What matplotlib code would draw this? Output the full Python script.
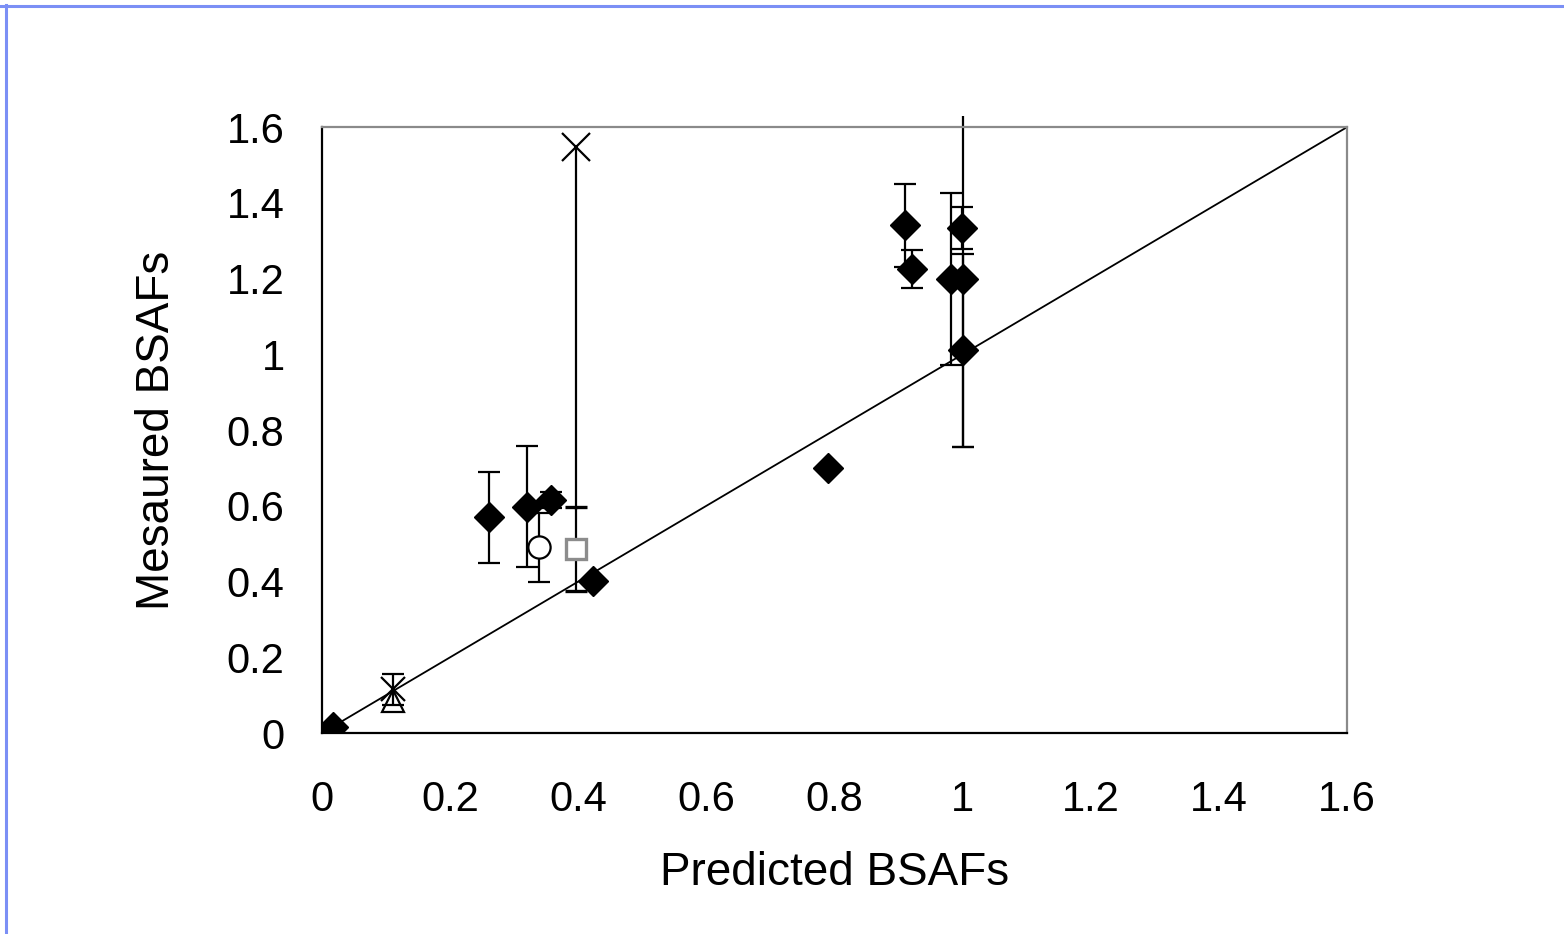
import matplotlib
matplotlib.use("Agg")
import matplotlib.pyplot as plt
from matplotlib.lines import Line2D

plt.rcParams['font.family'] = ['Liberation Sans', 'DejaVu Sans']

# ─── data ────────────────────────────────────────
# filled diamonds: predicted, measured, symmetric error
dia_x = [0.017, 0.26, 0.32, 0.357, 0.423, 0.79, 0.91, 0.92, 0.982, 0.999, 1.0]
dia_y = [0.015, 0.57, 0.597, 0.615, 0.401, 0.70, 1.34, 1.225, 1.199, 1.333, 1.01]
dia_err = [0.0, 0.12, 0.16, 0.021, 0.0, 0.0, 0.11, 0.05, 0.227, 0.055, 0.255]

# diamond with the very wide error bar (upper part runs off the plot)
big_x = [1.0]
big_y = [1.20]
big_lo = [0.445]
big_hi = [0.43]

# open circle
circ_x = [0.339]
circ_y = [0.49]
circ_err = [0.092]

# grey open square
sq_x = [0.397]
sq_y = [0.486]
sq_err = [0.11]

# crosses (the top one only has a lower error bar)
x_x = [0.11]
x_y = [0.115]
x_err = [0.04]
xtop_x = [0.397]
xtop_y = [1.547]
xtop_lo = [0.957]

# open triangle
tri_x = [0.11]
tri_y = [0.085]

ticks = [0, 0.2, 0.4, 0.6, 0.8, 1, 1.2, 1.4, 1.6]
tick_labels = ['0', '0.2', '0.4', '0.6', '0.8', '1', '1.2', '1.4', '1.6']

# ─── figure ──────────────────────────────────────
fig = plt.figure(figsize=(15.64, 9.34), dpi=100)
ax = fig.add_axes([0.2059, 0.2152, 0.6555, 0.6488])

# 1:1 line
ax.plot([0, 1.6], [0, 1.6], color='black', lw=1.3, zorder=1)

eb = dict(ecolor='black', elinewidth=1.6, capsize=8, capthick=1.6, ls='none')

ax.errorbar(dia_x, dia_y, yerr=dia_err, fmt='D', ms=15, mfc='black',
            mec='black', zorder=3, **eb)
ax.errorbar(big_x, big_y, yerr=[big_lo, [0]], fmt='D', ms=15, mfc='black',
            mec='black', zorder=3, **eb)
ax.errorbar(big_x, big_y, yerr=[[0], big_hi], fmt='none', ecolor='black',
            elinewidth=1.6, capsize=0, clip_on=False, zorder=2)
ax.errorbar(circ_x, circ_y, yerr=circ_err, fmt='o', ms=16, mfc='white',
            mec='black', mew=1.6, zorder=3, **eb)
ax.errorbar(sq_x, sq_y, yerr=sq_err, fmt='s', ms=15, mfc='white',
            mec='#8c8c8c', mew=2.4, zorder=3, **eb)
ax.plot(tri_x, tri_y, '^', ms=16, mfc='white', mec='black', mew=1.6,
        ls='none', zorder=3)
ax.errorbar(x_x, x_y, yerr=x_err, fmt='x', ms=17, mec='black',
            mew=1.6, zorder=4, **eb)
ax.errorbar(xtop_x, xtop_y, yerr=[xtop_lo, [0]], fmt='x', ms=20, mec='black',
            mew=1.6, ecolor='black', elinewidth=1.6, capsize=0, ls='none',
            zorder=4, clip_on=False)

ax.set_xlim(0, 1.6)
ax.set_ylim(0, 1.6)
ax.set_xticks(ticks)
ax.set_xticklabels(tick_labels)
ax.set_yticks(ticks)
ax.set_yticklabels(tick_labels)
ax.tick_params(length=0, labelsize=30)
ax.tick_params(axis='x', pad=34)
ax.tick_params(axis='y', pad=27)

for s in ['left', 'bottom']:
    ax.spines[s].set_color('black')
    ax.spines[s].set_linewidth(1.6)
for s in ['top', 'right']:
    ax.spines[s].set_color('#8a8a8a')
    ax.spines[s].set_linewidth(1.6)

ax.set_xlabel('Predicted BSAFs', fontsize=33, labelpad=22)
ax.set_ylabel('Mesaured BSAFs', fontsize=33, labelpad=34)

# spreadsheet border around the chart
fig.add_artist(Line2D([0, 1], [1 - 5.5 / 934] * 2, color='#7b8ff5', lw=2.2))
fig.add_artist(Line2D([6 / 1564] * 2, [0, 1 - 5 / 934], color='#7b8ff5', lw=2.2))

fig.savefig('out.png', dpi=100)
